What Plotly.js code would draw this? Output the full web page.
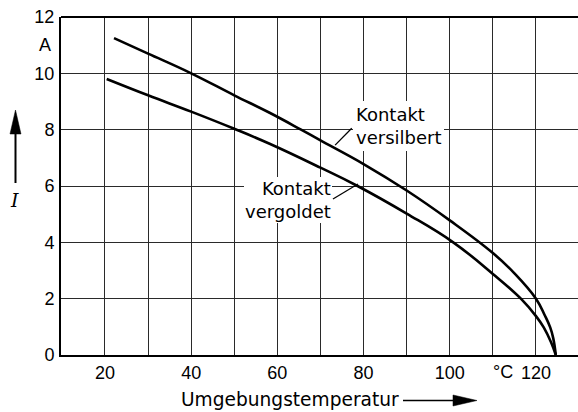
<!DOCTYPE html>
<html>
<head>
<meta charset="utf-8">
<script src="https://cdn.plot.ly/plotly-3.0.1.min.js"></script>
<style>
html,body{margin:0;padding:0;background:#fff;overflow:hidden;}
#chart{width:578px;height:412px;}
</style>
</head>
<body>
<div id="chart"></div>
<script>
// Data
const tempSilver = [22.1, 30, 40, 50, 58.2, 65.5, 70, 80, 90, 100, 110, 115, 120, 122, 123.3, 124, 124.6];
const currSilver = [11.25, 10.70, 10.0, 9.22, 8.6, 8.0, 7.62, 6.78, 5.84, 4.78, 3.62, 2.9, 2.0, 1.42, 0.98, 0.6, 0];
const tempGold = [20.4, 30, 40, 50, 58.2, 70, 78.6, 90, 100.8, 110, 116.5, 120, 121.8, 123.5, 124.6];
const currGold = [9.80, 9.22, 8.64, 8.03, 7.5, 6.65, 6.0, 5.02, 4.0, 2.88, 2.0, 1.38, 0.98, 0.45, 0];
const labelSilver = "Kontakt<br>versilbert";
const labelGold = "Kontakt<br>vergoldet";
const xTitle = "Umgebungstemperatur";
const yTitle = "<i>I</i>";
const yUnit = "A";
const xUnit = "°C";

// geometry helpers (layout only)
const L = 61, T = 17, W = 578, H = 412, B = 57;
const PW = W - L, PH = H - T - B;
function P(xpx, ypx) { return [(xpx - L) / PW, (H - B - ypx) / PH]; }
function path(pts) {
  return "M" + pts.map(p => { const q = P(p[0], p[1]); return q[0].toFixed(5) + "," + q[1].toFixed(5); }).join(" L") + " Z";
}
function pline(x0, y0, x1, y1, w) {
  const a = P(x0, y0), b = P(x1, y1);
  return {type: "line", xref: "paper", yref: "paper", x0: a[0], y0: a[1], x1: b[0], y1: b[1], line: {color: "#000", width: w}};
}

const lineStyle = {color: "#000", width: 2.6, shape: "spline", smoothing: 1.2};
const traces = [
  {x: tempSilver, y: currSilver, mode: "lines", line: lineStyle, hoverinfo: "skip", showlegend: false, name: "Kontakt versilbert"},
  {x: tempGold, y: currGold, mode: "lines", line: lineStyle, hoverinfo: "skip", showlegend: false, name: "Kontakt vergoldet"}
];

const tickFont = {family: "Liberation Sans, Arial, sans-serif", size: 18, color: "#000"};
const textFont = {family: "DejaVu Sans, sans-serif", size: 18, color: "#000"};
const gridCol = "#2a2a2a";

const layout = {
  width: W, height: H,
  margin: {l: L, r: 0, t: T, b: B, pad: 0},
  paper_bgcolor: "#fff", plot_bgcolor: "#fff",
  showlegend: false,
  xaxis: {
    range: [9.8, 129.75], tick0: 0, dtick: 20,
    showgrid: true, gridcolor: gridCol, gridwidth: 1,
    minor: {tick0: 0, dtick: 10, showgrid: true, gridcolor: gridCol, gridwidth: 1},
    showline: true, linecolor: "#000", linewidth: 2,
    zeroline: false, ticks: "", tickfont: tickFont, ticklabelstandoff: 0,
    fixedrange: true
  },
  yaxis: {
    range: [0, 12], tick0: 0, dtick: 2,
    showgrid: true, gridcolor: gridCol, gridwidth: 1,
    showline: true, linecolor: "#000", linewidth: 2,
    zeroline: false, ticks: "", tickfont: tickFont, ticklabelstandoff: 1,
    fixedrange: true
  },
  shapes: [
    {type: "line", xref: "paper", yref: "paper", x0: 0, x1: 1, y0: 1, y1: 1, line: {color: "#000", width: 2}},
    // leader lines
    {type: "line", xref: "x", yref: "y", x0: 77.25, y0: 8.05, x1: 73.4, y1: 7.45, line: {color: "#000", width: 1.3}},
    {type: "line", xref: "x", yref: "y", x0: 72.9, y0: 5.54, x1: 78.7, y1: 6.07, line: {color: "#000", width: 1.3}},
    // y axis arrow
    pline(15.5, 183, 15.5, 126, 2),
    {type: "path", xref: "paper", yref: "paper", path: path([[15.5, 110], [10, 134], [21, 134]]), fillcolor: "#000", line: {color: "#000", width: 0.5}},
    // x axis arrow
    pline(403, 400.5, 456, 400.5, 1.6),
    {type: "path", xref: "paper", yref: "paper", path: path([[477, 400.5], [453, 395], [453, 406]]), fillcolor: "#000", line: {color: "#000", width: 0.5}}
  ],
  annotations: [
    {text: labelSilver, xref: "x", yref: "y", x: 77.55, y: 8.12, xanchor: "left", yanchor: "middle", align: "left",
     showarrow: false, bgcolor: "#fff", borderpad: 3, borderwidth: 0, font: textFont},
    {text: labelGold, xref: "x", yref: "y", x: 72.6, y: 5.52, xanchor: "right", yanchor: "middle", align: "right",
     showarrow: false, bgcolor: "#fff", borderpad: 1, borderwidth: 0, font: textFont},
    {text: yUnit, xref: "paper", yref: "y", x: 0, y: 11, xanchor: "right", yanchor: "middle", xshift: -8,
     showarrow: false, font: tickFont},
    {text: xUnit, xref: "x", yref: "paper", x: 112.35, y: P(0, 372)[1], xanchor: "center", yanchor: "middle",
     showarrow: false, font: tickFont},
    {text: xTitle, xref: "x", yref: "paper", x: 63.0, y: P(0, 400)[1], xanchor: "center", yanchor: "middle",
     showarrow: false, font: {family: "DejaVu Sans, sans-serif", size: 18.6, color: "#000"}},
    {text: yTitle, xref: "paper", yref: "paper", x: P(14, 0)[0], y: P(0, 200)[1], xanchor: "center", yanchor: "middle",
     showarrow: false, font: {family: "DejaVu Serif, serif", size: 19, color: "#000"}}
  ]
};

Plotly.newPlot("chart", traces, layout, {staticPlot: true, displayModeBar: false});
</script>
</body>
</html>
